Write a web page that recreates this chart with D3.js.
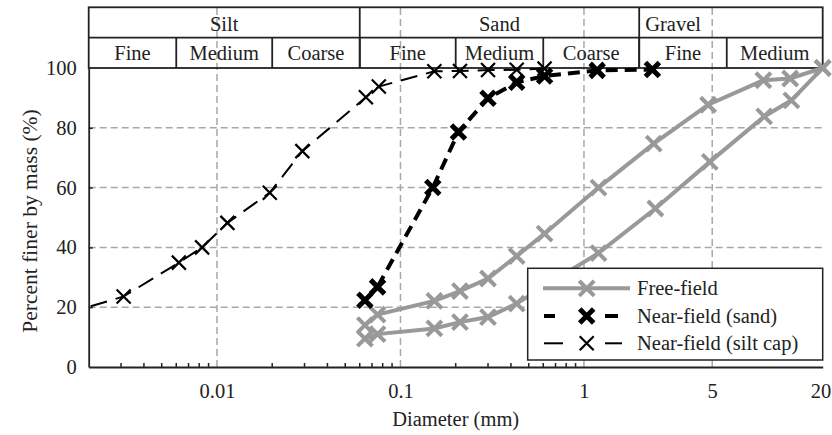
<!DOCTYPE html>
<html>
<head>
<meta charset="utf-8">
<script src="https://cdn.jsdelivr.net/npm/d3@7"></script>
<style>
	body{margin:0;background:#fff;}
	svg text{font-family:"Liberation Serif",serif;font-size:20.5px;fill:#222;}
</style>
</head>
<body>
<svg id="chart" width="832" height="435"></svg>
<script>
// soil classes (mm)
const classNames = ["Silt", "Sand", "Gravel"];
const classLimits = [[0.002, 0.06], [0.06, 2], [2, 20]];
const subNames = ["Fine", "Medium", "Coarse", "Fine", "Medium", "Coarse", "Fine", "Medium"];
const subLimits = [0.002, 0.006, 0.02, 0.06, 0.2, 0.6, 2, 6, 20];

const xTickValues = [0.01, 0.1, 1, 5, 20];
const yTickValues = [0, 20, 40, 60, 80, 100];
const xGridValues = [0.01, 0.1, 1, 5];
const yGridValues = [20, 40, 60, 80];

// [diameter (mm), percent finer]
const freeFieldA = [[0.064, 14], [0.075, 17.5], [0.153, 22.1], [0.211, 25.4], [0.30, 29.6], [0.43, 37.1], [0.61, 44.6], [1.2, 60.0], [2.4, 74.7], [4.75, 87.7], [9.5, 95.9], [13.3, 96.5], [20, 100]];
const freeFieldB = [[0.064, 9.5], [0.075, 11], [0.153, 12.9], [0.211, 15.0], [0.30, 16.7], [0.43, 21.2], [0.61, 27], [1.2, 38.1], [2.45, 53], [4.85, 68.6], [9.6, 83.8], [13.5, 89.2], [20, 100]];
const nearFieldSand = [[0.064, 22.3], [0.075, 26.8], [0.15, 60.0], [0.207, 78.6], [0.30, 89.9], [0.43, 95.2], [0.61, 97.3], [1.18, 99.2], [2.36, 99.5]];
const nearFieldSilt = [[0.0015, 17.8], [0.0031, 23.6], [0.0062, 34.9], [0.0083, 40.0], [0.0114, 48.2], [0.0194, 58.3], [0.0292, 72.2], [0.0648, 90.2], [0.0762, 93.8], [0.153, 98.9], [0.211, 99.0], [0.30, 99.3], [0.43, 99.4], [0.61, 99.8]];

const legendNames = ["Free-field", "Near-field (sand)", "Near-field (silt cap)"];

drawChart();

function drawChart(){
	var svg = d3.select("#chart"),
		left = 88.7,
		right = 822.7,
		top = 68,
		bottom = 367,
		headTop = 7.3,
		headMid = 37.7,
		gridColor = "#a8a8a8",
		lineColor = "#222",
		x = d3.scaleLog().domain([0.002, 20]).range([left, right]),
		y = d3.scaleLinear().domain([0, 100]).range([bottom, top]),
		styles = {
			free: {color: "#999", width: 4, dash: null, size: 7.5, mwidth: 4},
			sand: {color: "#000", width: 4, dash: "12,7", size: 7, mwidth: 5},
			silt: {color: "#000", width: 2, dash: "17,9", size: 7, mwidth: 2.2}
		},
		series = [
			{data: freeFieldA, style: styles.free},
			{data: freeFieldB, style: styles.free},
			{data: nearFieldSand, style: styles.sand},
			{data: nearFieldSilt, style: styles.silt}
		];

	svg.append("clipPath").attr("id", "plotClip")
		.append("rect").attr("x", left).attr("y", 0)
		.attr("width", right - left).attr("height", bottom);

	// grid
	var grid = svg.append("g").attr("class", "grid")
		.attr("stroke", gridColor).attr("stroke-width", 1.5).attr("stroke-dasharray", "7,4");
	grid.selectAll(".gx").data(xGridValues).enter().append("line")
		.attr("x1", d => x(d)).attr("x2", d => x(d))
		.attr("y1", bottom).attr("y2", headTop);
	grid.selectAll(".gy").data(yGridValues).enter().append("line")
		.attr("x1", left).attr("x2", right)
		.attr("y1", d => y(d)).attr("y2", d => y(d));

	// class header
	var head = svg.append("g").attr("class", "header");
	head.append("rect").attr("x", left).attr("y", headTop)
		.attr("width", right - left).attr("height", top - headTop)
		.attr("fill", "none").attr("stroke", lineColor).attr("stroke-width", 1.8);
	head.append("line").attr("x1", left).attr("x2", right)
		.attr("y1", headMid).attr("y2", headMid)
		.attr("stroke", lineColor).attr("stroke-width", 1.8);
	head.selectAll(".major").data(classLimits.slice(1)).enter().append("line")
		.attr("x1", d => x(d[0])).attr("x2", d => x(d[0]))
		.attr("y1", headTop).attr("y2", top)
		.attr("stroke", lineColor).attr("stroke-width", 1.8);
	head.selectAll(".minor").data(subLimits.slice(1, -1)).enter().append("line")
		.attr("x1", d => x(d)).attr("x2", d => x(d))
		.attr("y1", headMid).attr("y2", top)
		.attr("stroke", lineColor).attr("stroke-width", 1.8);
	head.selectAll(".cls").data(classNames).enter().append("text")
		.attr("x", (d, i) => i == 2 ? x(classLimits[i][0]) + 6 : x(Math.sqrt(classLimits[i][0] * classLimits[i][1])))
		.attr("y", headMid - 7)
		.attr("text-anchor", (d, i) => i == 2 ? "start" : "middle")
		.text(d => d);
	head.selectAll(".sub").data(subNames).enter().append("text")
		.attr("x", (d, i) => x(Math.sqrt(subLimits[i] * subLimits[i + 1])))
		.attr("y", top - 8)
		.attr("text-anchor", "middle")
		.text(d => d);

	// lines and markers
	var line = d3.line().x(d => x(d[0])).y(d => y(d[1]));
	var plot = svg.append("g").attr("class", "series");
	series.forEach(function(s){
		var st = s.style;
		plot.append("path")
			.attr("d", line(s.data))
			.attr("clip-path", "url(#plotClip)")
			.attr("fill", "none")
			.attr("stroke", st.color)
			.attr("stroke-width", st.width)
			.attr("stroke-dasharray", st.dash);
		plot.append("g").selectAll("path")
			.data(s.data.filter(d => d[0] >= 0.002))
			.enter().append("path")
			.attr("d", d => crossPath(x(d[0]), y(d[1]), st.size))
			.attr("stroke", st.color)
			.attr("stroke-width", st.mwidth)
			.attr("fill", "none");
	});

	// axes
	var xAxis = d3.axisBottom(x).tickValues(xTickValues).tickFormat(d3.format("~g"))
		.tickSizeInner(0).tickSizeOuter(0).tickPadding(16);
	var gx = svg.append("g").attr("transform", "translate(0," + bottom + ")").call(xAxis);
	var yAxis = d3.axisLeft(y).tickValues(yTickValues)
		.tickSizeInner(-4).tickSizeOuter(0).tickPadding(12);
	var gy = svg.append("g").attr("transform", "translate(" + left + ",0)").call(yAxis);
	[gx, gy].forEach(function(g){
		g.attr("font-family", null).attr("font-size", null);
		g.select(".domain").attr("stroke", lineColor).attr("stroke-width", 1.8);
		g.selectAll(".tick line").attr("stroke", lineColor).attr("stroke-width", 1.5);
		g.selectAll("text").attr("fill", "#222");
	});
	gy.selectAll(".tick").filter(d => d == 0 || d == 100).select("line").remove();
	gx.selectAll(".tick").filter(d => d == 20).select("text").attr("text-anchor", "end").attr("x", 8);

	// minor log ticks below 1 mm
	var minor = [];
	[0.001, 0.01, 0.1].forEach(function(dec){
		for(var k = 2; k <= 9; k++){
			var v = +(k * dec).toPrecision(3);
			if(v > 0.002 && v < 1) minor.push(v);
		}
	});
	svg.append("g").selectAll("line").data(minor).enter().append("line")
		.attr("x1", d => x(d)).attr("x2", d => x(d))
		.attr("y1", bottom).attr("y2", bottom - 4)
		.attr("stroke", lineColor).attr("stroke-width", 1.5);

	svg.append("text").attr("x", (left + right) / 2).attr("y", 426)
		.attr("text-anchor", "middle").text("Diameter (mm)");
	svg.append("text").attr("transform", "translate(37,221) rotate(-90)")
		.attr("text-anchor", "middle").style("font-size", "21.5px").text("Percent finer by mass (%)");

	// legend
	var lg = svg.append("g").attr("class", "legend"),
		lgX = 527.7, lgY = 268.3,
		rowY = [288.3, 316, 343.3],
		legendStyles = [styles.free, styles.sand, styles.silt];
	lg.append("rect").attr("x", lgX).attr("y", lgY)
		.attr("width", right - lgX).attr("height", 91.7)
		.attr("fill", "#fff").attr("stroke", lineColor).attr("stroke-width", 1.5);
	legendNames.forEach(function(name, i){
		var st = legendStyles[i], ry = rowY[i], cx = 586.7,
			segs = st.dash ? (i == 1 ? [[544, 555], [605, 618]] : [[544, 563], [605, 622]]) : [[543, 630]];
		segs.forEach(function(s){
			lg.append("line").attr("x1", s[0]).attr("x2", s[1]).attr("y1", ry).attr("y2", ry)
				.attr("stroke", st.color).attr("stroke-width", st.width);
		});
		lg.append("path").attr("d", crossPath(cx, ry, st.size))
			.attr("stroke", st.color).attr("stroke-width", st.mwidth).attr("fill", "none");
		lg.append("text").attr("x", 637).attr("y", ry).attr("dy", "0.35em").text(name);
	});
}

function crossPath(cx, cy, r){
	return "M" + (cx - r) + "," + (cy - r) + "L" + (cx + r) + "," + (cy + r) +
		"M" + (cx - r) + "," + (cy + r) + "L" + (cx + r) + "," + (cy - r);
}
</script>
</body>
</html>
